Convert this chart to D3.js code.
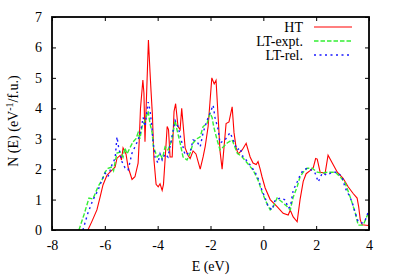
<!DOCTYPE html>
<html>
<head>
<meta charset="utf-8">
<script src="https://cdn.jsdelivr.net/npm/d3@7"></script>
<style>
  body { margin: 0; background: #fff; }
</style>
</head>
<body>
<div id="chart"></div>
<script>
// HT (red, solid)
const htE = [-6.64, -6.48, -6.30, -6.18, -6.07, -5.92, -5.73, -5.61, -5.54, -5.42, -5.37, -5.31, -5.20, -5.12, -4.97, -4.86, -4.74, -4.70, -4.65, -4.56, -4.52, -4.48, -4.41, -4.35, -4.29, -4.25, -4.20, -4.14, -4.06, -3.98, -3.91, -3.83, -3.78, -3.72, -3.64, -3.59, -3.53, -3.45, -3.38, -3.32, -3.23, -3.15, -3.09, -3.04, -2.96, -2.85, -2.77, -2.66, -2.55, -2.39, -2.28, -2.20, -2.09, -2.02, -1.95, -1.86, -1.79, -1.71, -1.64, -1.56, -1.48, -1.41, -1.30, -1.18, -1.11, -1.03, -0.95, -0.80, -0.65, -0.50, -0.39, -0.27, -0.20, -0.12, -0.05, 0.07, 0.26, 0.52, 0.75, 0.94, 1.02, 1.13, 1.28, 1.39, 1.51, 1.62, 1.77, 1.89, 1.98, 2.04, 2.15, 2.34, 2.45, 2.61, 2.80, 3.02, 3.21, 3.40, 3.55, 3.61, 3.67, 3.74, 3.97, 4.00];
const htN = [0, 0.30, 0.66, 1.08, 1.48, 1.80, 1.97, 2.07, 2.36, 2.45, 2.30, 2.70, 2.50, 2.07, 1.66, 1.75, 2.20, 2.90, 4.00, 4.93, 4.50, 2.90, 4.70, 6.24, 5.20, 4.55, 3.80, 2.30, 1.50, 1.42, 1.52, 1.30, 1.50, 2.30, 3.40, 3.30, 2.40, 2.40, 3.90, 4.15, 3.40, 3.30, 4.00, 3.50, 2.70, 2.45, 2.35, 2.60, 2.50, 2.00, 2.40, 2.75, 3.40, 4.20, 5.00, 4.80, 4.92, 3.70, 2.60, 2.00, 2.80, 3.50, 3.55, 4.05, 3.20, 2.70, 2.50, 2.63, 2.85, 2.40, 2.20, 2.15, 2.25, 2.00, 1.75, 1.38, 1.00, 0.77, 0.55, 0.49, 0.65, 0.43, 0.27, 1.00, 1.60, 1.85, 1.95, 2.05, 2.35, 2.33, 1.90, 1.87, 2.46, 2.20, 1.90, 1.70, 1.42, 1.20, 1.05, 0.76, 0.33, 0.17, 0.15, 0.20];

// LT-expt. (green, dashed)
const exptE = [-6.98, -6.79, -6.60, -6.45, -6.26, -6.11, -5.99, -5.88, -5.73, -5.67, -5.61, -5.54, -5.42, -5.31, -5.24, -5.16, -5.05, -4.93, -4.82, -4.74, -4.67, -4.59, -4.48, -4.36, -4.29, -4.21, -4.16, -4.02, -3.91, -3.82, -3.72, -3.61, -3.46, -3.34, -3.27, -3.15, -3.04, -2.89, -2.77, -2.66, -2.51, -2.39, -2.28, -2.13, -2.02, -1.94, -1.88, -1.75, -1.64, -1.52, -1.37, -1.18, -0.99, -0.80, -0.61, -0.39, -0.20, -0.05, 0.07, 0.26, 0.37, 0.52, 0.71, 0.90, 1.02, 1.13, 1.28, 1.39, 1.51, 1.66, 1.85, 2.04, 2.23, 2.45, 2.72, 2.91, 3.10, 3.29, 3.48, 3.59, 3.78, 3.97];
const exptN = [0, 0.50, 1.05, 1.02, 1.42, 1.64, 1.90, 2.03, 2.07, 1.95, 2.24, 2.53, 2.56, 2.40, 2.70, 2.50, 2.70, 2.90, 3.00, 3.20, 3.00, 3.40, 3.60, 3.90, 3.50, 3.20, 2.73, 2.40, 2.50, 2.35, 2.73, 2.63, 2.96, 3.60, 3.30, 2.86, 2.40, 2.30, 2.53, 2.86, 3.00, 3.06, 3.40, 3.50, 3.84, 3.70, 3.40, 2.96, 2.63, 2.73, 2.86, 2.96, 2.53, 2.40, 2.20, 1.97, 1.64, 1.25, 0.99, 0.66, 0.75, 1.05, 0.92, 0.77, 0.66, 1.08, 1.42, 1.75, 1.90, 2.03, 2.03, 1.90, 1.87, 1.90, 1.90, 1.75, 1.54, 1.08, 0.56, 0.16, 0.16, 0.55];

// LT-rel. (blue, dotted)
const relE = [-6.83, -6.64, -6.45, -6.26, -6.11, -5.99, -5.88, -5.73, -5.61, -5.54, -5.48, -5.35, -5.24, -5.12, -4.97, -4.86, -4.74, -4.63, -4.55, -4.48, -4.36, -4.29, -4.21, -4.18, -4.10, -3.99, -3.91, -3.83, -3.72, -3.61, -3.46, -3.34, -3.23, -3.08, -2.96, -2.77, -2.66, -2.51, -2.39, -2.28, -2.13, -2.02, -1.90, -1.83, -1.71, -1.64, -1.45, -1.26, -1.14, -0.99, -0.88, -0.77, -0.65, -0.50, -0.31, -0.20, -0.05, 0.07, 0.18, 0.33, 0.45, 0.64, 0.83, 0.94, 1.02, 1.13, 1.28, 1.39, 1.51, 1.66, 1.77, 1.96, 2.08, 2.23, 2.42, 2.61, 2.80, 2.98, 3.10, 3.21, 3.36, 3.48, 3.59, 3.74, 3.86, 3.97];
const relN = [0, 0.56, 0.99, 1.30, 1.64, 1.87, 1.75, 2.14, 2.36, 3.06, 2.73, 2.24, 2.05, 1.97, 2.53, 2.73, 2.96, 3.30, 3.70, 3.40, 4.20, 3.94, 3.30, 2.96, 2.40, 2.20, 2.50, 2.30, 2.50, 2.40, 3.06, 3.60, 3.40, 2.86, 2.46, 2.56, 2.96, 2.90, 2.73, 3.20, 3.60, 3.84, 4.10, 3.70, 3.30, 2.86, 2.96, 3.20, 2.96, 2.63, 2.70, 2.40, 2.30, 2.14, 1.90, 1.70, 1.30, 1.05, 0.77, 0.66, 0.99, 1.05, 0.99, 0.72, 0.75, 1.30, 1.58, 1.80, 1.97, 2.03, 2.00, 1.87, 1.58, 1.87, 1.80, 1.90, 1.90, 1.75, 1.38, 1.20, 0.92, 0.56, 0.27, 0.23, 0.33, 0.59];

const xTicks = [-8, -6, -4, -2, 0, 2, 4];
const yTicks = [0, 1, 2, 3, 4, 5, 6, 7];

const width = 395, height = 276;
const margin = { top: 17, right: 26, bottom: 46, left: 52 };
const iw = width - margin.left - margin.right;
const ih = height - margin.top - margin.bottom;
const FONT = '"Liberation Serif"';

const svg = d3.select('#chart').append('svg')
    .attr('width', width)
    .attr('height', height);

const g = svg.append('g')
    .attr('transform', `translate(${margin.left},${margin.top})`);

const x = d3.scaleLinear().domain([-8, 4]).range([0, iw]);
const y = d3.scaleLinear().domain([0, 7]).range([ih, 0]);

// axes, gnuplot style: ticks pointing inward on all four sides
const fmt = d => String(d);
const axes = [
    g.append('g')
        .attr('transform', `translate(0,${ih})`)
        .call(d3.axisBottom(x).tickValues(xTicks).tickSize(-4).tickPadding(10).tickFormat(fmt)),
    g.append('g')
        .call(d3.axisTop(x).tickValues(xTicks).tickSize(-4).tickFormat('')),
    g.append('g')
        .call(d3.axisLeft(y).tickValues(yTicks).tickSize(-4).tickPadding(10).tickFormat(fmt)),
    g.append('g')
        .attr('transform', `translate(${iw},0)`)
        .call(d3.axisRight(y).tickValues(yTicks).tickSize(-4).tickFormat(''))
];
axes.forEach(a => a.select('.domain').remove());

g.selectAll('.tick line').attr('stroke', '#000').attr('stroke-width', 1);
g.selectAll('.tick text')
    .attr('font-family', FONT)
    .attr('font-size', 14)
    .attr('fill', '#000');

// curves
const series = [
    { name: 'HT', e: htE, n: htN, color: '#ff0000', dash: null, w: 1.1 },
    { name: 'LT-expt.', e: exptE, n: exptN, color: '#33ee33', dash: '4.5,2', w: 1.4 },
    { name: 'LT-rel.', e: relE, n: relN, color: '#1a1aff', dash: '2,3.5', w: 1.4 }
];

const line = d3.line()
    .x(d => x(d[0]))
    .y(d => y(d[1]));

g.append('defs').append('clipPath').attr('id', 'clip')
    .append('rect').attr('width', iw).attr('height', ih);

const plot = g.append('g').attr('clip-path', 'url(#clip)');
series.forEach(s => {
    plot.append('path')
        .datum(d3.zip(s.e, s.n))
        .attr('fill', 'none')
        .attr('stroke', s.color)
        .attr('stroke-width', s.w)
        .attr('stroke-dasharray', s.dash)
        .attr('d', line);
});

// frame
g.append('rect')
    .attr('width', iw)
    .attr('height', ih)
    .attr('fill', 'none')
    .attr('stroke', '#000')
    .attr('stroke-width', 1.8);

// legend
const legend = g.append('g');
series.forEach((s, i) => {
    const ly = 10 + i * 14;
    legend.append('text')
        .attr('x', 251)
        .attr('y', ly + 5)
        .attr('text-anchor', 'end')
        .attr('font-family', FONT)
        .attr('font-size', 14)
        .text(s.name);
    legend.append('line')
        .attr('x1', 262).attr('x2', 300)
        .attr('y1', ly).attr('y2', ly)
        .attr('stroke', s.color)
        .attr('stroke-width', s.w)
        .attr('stroke-dasharray', s.dash);
});

// axis titles
svg.append('text')
    .attr('x', margin.left + iw / 2)
    .attr('y', 271)
    .attr('text-anchor', 'middle')
    .attr('font-family', FONT)
    .attr('font-size', 14)
    .text('E (eV)');

const yl = svg.append('text')
    .attr('transform', 'translate(18,121) rotate(-90)')
    .attr('text-anchor', 'middle')
    .attr('font-family', FONT)
    .attr('font-size', 14);
yl.append('tspan').text('N (E) (eV');
yl.append('tspan').attr('dy', -5).attr('font-size', 10).text('-1');
yl.append('tspan').attr('dy', 5).text('/f.u.)');
</script>
</body>
</html>
